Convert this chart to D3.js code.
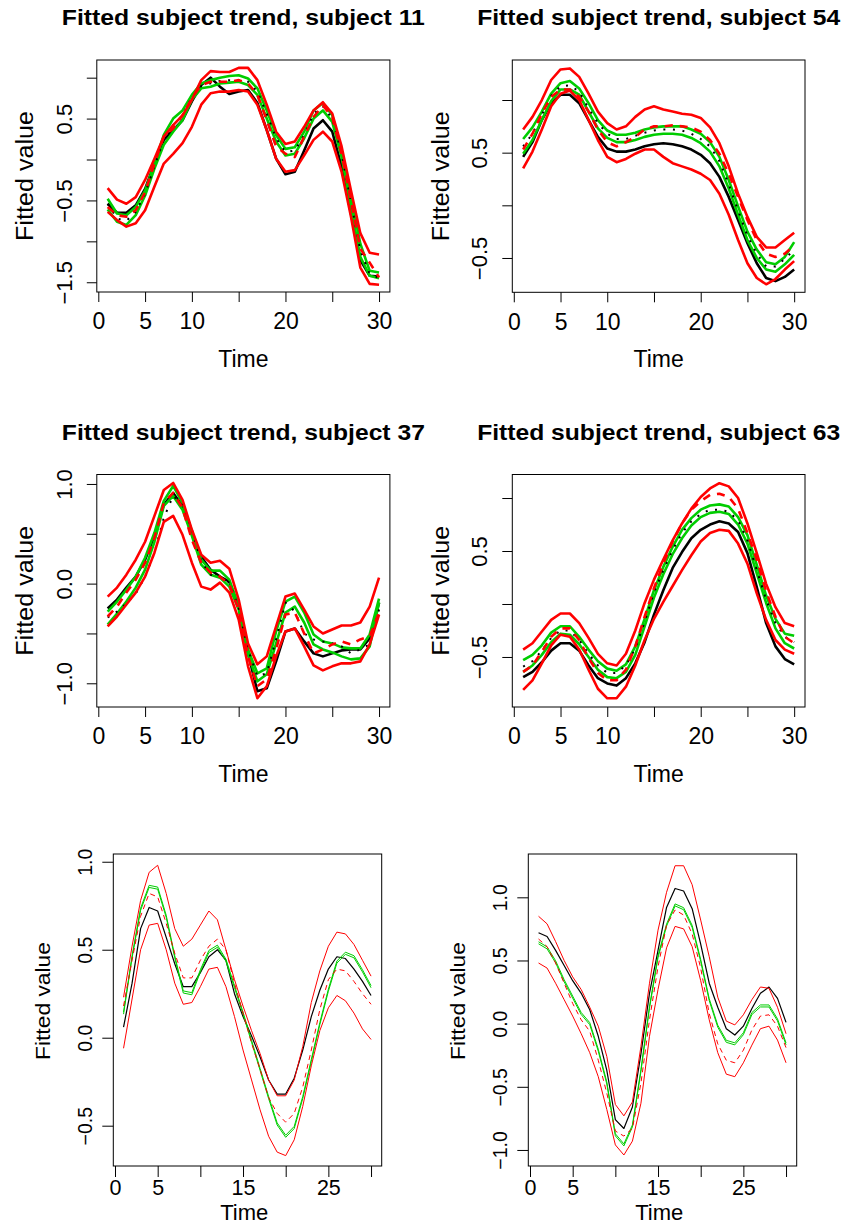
<!DOCTYPE html>
<html><head><meta charset="utf-8">
<script src="https://cdn.jsdelivr.net/npm/d3@7"></script>
<style>
html,body{margin:0;padding:0;background:#fff;}
svg{display:block;font-family:"Liberation Sans",Arial,Helvetica,sans-serif;}
</style></head><body>
<svg id="chart" width="846" height="1226"></svg>
<script>
// ---------- data ----------
const time = [1,2,3,4,5,6,7,8,9,10,11,12,13,14,15,16,17,18,19,20,21,22,23,24,25,26,27,28,29,30];
const xTicks = [0,5,10,15,20,25,30];
const xLabelsTop = ["0","5","10","","20","","30"];
const xLabelsBottom = ["0","5","","15","","25",""];

const titles = ["Fitted subject trend, subject 11","Fitted subject trend, subject 54",
                "Fitted subject trend, subject 37","Fitted subject trend, subject 63"];

// panel 1 : subject 11
const p1YTicks = [-1.5,-1,-0.5,0,0.5,1];
const p1YLabels = ["\u22121.5","","\u22120.5","","0.5",""];
const p1Black = [-0.54,-0.65,-0.65,-0.56,-0.36,-0.05,0.24,0.36,0.48,0.71,0.91,1.00,0.89,0.80,0.83,0.85,0.69,0.36,0.01,-0.18,-0.15,0.11,0.38,0.48,0.34,-0.09,-0.66,-1.23,-1.42,-1.43];
const p1Mean = [-0.54,-0.72,-0.75,-0.64,-0.42,-0.08,0.24,0.42,0.54,0.76,0.90,0.93,0.96,0.97,0.97,0.95,0.83,0.56,0.26,0.09,0.11,0.30,0.56,0.65,0.50,0.07,-0.52,-1.11,-1.40,-1.45];
const p1RedDash = [-0.58,-0.68,-0.70,-0.62,-0.40,-0.05,0.28,0.38,0.54,0.75,0.91,0.95,0.95,0.95,0.97,0.93,0.79,0.48,0.16,0.07,0.03,0.28,0.52,0.66,0.52,0.07,-0.50,-1.09,-1.26,-1.44];
const p1RedHi = [-0.35,-0.49,-0.54,-0.46,-0.25,0.01,0.28,0.42,0.54,0.73,0.97,1.08,1.07,1.07,1.12,1.12,0.97,0.67,0.34,0.19,0.22,0.40,0.60,0.70,0.56,0.16,-0.38,-0.90,-1.14,-1.16];
const p1RedLo = [-0.64,-0.74,-0.82,-0.78,-0.62,-0.33,-0.05,0.07,0.20,0.40,0.67,0.81,0.83,0.83,0.85,0.83,0.67,0.36,0.01,-0.15,-0.13,0.05,0.24,0.34,0.22,-0.15,-0.70,-1.32,-1.52,-1.53];
const p1GreenHi = [-0.48,-0.66,-0.68,-0.58,-0.38,-0.05,0.30,0.50,0.60,0.79,0.93,0.97,1.00,1.02,1.03,0.99,0.87,0.60,0.30,0.13,0.15,0.34,0.60,0.69,0.54,0.11,-0.46,-1.03,-1.36,-1.38];
const p1GreenLo = [-0.61,-0.76,-0.80,-0.68,-0.44,-0.11,0.18,0.34,0.48,0.73,0.87,0.89,0.93,0.94,0.95,0.91,0.79,0.50,0.22,0.05,0.07,0.26,0.50,0.60,0.46,0.03,-0.58,-1.19,-1.42,-1.45];

// panel 2 : subject 54
const p2YTicks = [-0.5,0,0.5,1];
const p2YLabels = ["\u22120.5","","0.5",""];
const p2Black = [0.46,0.60,0.81,0.97,1.05,1.05,0.97,0.81,0.65,0.54,0.51,0.51,0.53,0.56,0.58,0.59,0.58,0.56,0.53,0.48,0.40,0.27,0.08,-0.14,-0.36,-0.55,-0.69,-0.72,-0.68,-0.61];
const p2Mean = [0.56,0.68,0.86,1.04,1.13,1.14,1.08,0.92,0.78,0.68,0.63,0.63,0.66,0.69,0.71,0.72,0.72,0.71,0.68,0.63,0.56,0.42,0.20,-0.05,-0.29,-0.46,-0.58,-0.58,-0.51,-0.42];
const p2RedDash = [0.53,0.68,0.87,1.03,1.10,1.10,1.03,0.89,0.72,0.60,0.56,0.60,0.65,0.72,0.75,0.75,0.76,0.75,0.74,0.70,0.62,0.49,0.30,0.08,-0.14,-0.33,-0.46,-0.49,-0.46,-0.38];
const p2RedHi = [0.72,0.84,1.00,1.19,1.29,1.30,1.22,1.06,0.89,0.78,0.72,0.75,0.84,0.91,0.94,0.91,0.89,0.87,0.86,0.83,0.74,0.59,0.37,0.11,-0.11,-0.30,-0.40,-0.40,-0.33,-0.26];
const p2RedLo = [0.35,0.51,0.72,0.94,1.06,1.09,1.00,0.81,0.62,0.46,0.41,0.44,0.49,0.53,0.53,0.46,0.40,0.37,0.34,0.30,0.24,0.11,-0.09,-0.33,-0.55,-0.69,-0.75,-0.70,-0.61,-0.53];
const p2GreenHi = [0.63,0.74,0.89,1.06,1.16,1.18,1.11,0.97,0.81,0.71,0.67,0.67,0.69,0.72,0.74,0.75,0.75,0.75,0.72,0.68,0.60,0.46,0.24,-0.01,-0.25,-0.42,-0.54,-0.56,-0.49,-0.35];
const p2GreenLo = [0.49,0.62,0.81,0.99,1.10,1.10,1.05,0.89,0.73,0.64,0.60,0.60,0.62,0.65,0.67,0.68,0.68,0.67,0.64,0.59,0.51,0.37,0.16,-0.09,-0.33,-0.50,-0.61,-0.63,-0.56,-0.47];

// panel 3 : subject 37
const p3YTicks = [-1,-0.5,0,0.5,1];
const p3YLabels = ["\u22121.0","","0.0","","1.0"];
const p3Black = [-0.25,-0.16,-0.04,0.07,0.24,0.48,0.79,0.91,0.78,0.51,0.27,0.14,0.07,0.02,-0.23,-0.70,-1.08,-1.05,-0.78,-0.48,-0.45,-0.58,-0.70,-0.73,-0.70,-0.67,-0.66,-0.66,-0.55,-0.19];
const p3Mean = [-0.34,-0.28,-0.20,-0.10,0.07,0.31,0.66,0.88,0.79,0.54,0.22,0.09,0.07,0.01,-0.24,-0.66,-0.93,-0.90,-0.56,-0.19,-0.28,-0.50,-0.56,-0.58,-0.60,-0.63,-0.70,-0.66,-0.61,-0.26];
const p3RedDash = [-0.33,-0.23,-0.09,0.04,0.21,0.46,0.81,0.91,0.76,0.44,0.21,0.11,0.07,-0.01,-0.26,-0.73,-1.03,-0.96,-0.66,-0.31,-0.29,-0.50,-0.70,-0.66,-0.61,-0.58,-0.61,-0.56,-0.53,-0.29];
const p3RedHi = [-0.13,-0.04,0.09,0.24,0.42,0.68,0.94,1.01,0.84,0.54,0.29,0.21,0.23,0.15,-0.16,-0.60,-0.81,-0.73,-0.43,-0.13,-0.10,-0.26,-0.43,-0.50,-0.46,-0.42,-0.42,-0.39,-0.23,0.06];
const p3RedLo = [-0.43,-0.33,-0.21,-0.09,0.07,0.31,0.62,0.68,0.49,0.21,-0.03,-0.06,0.01,-0.09,-0.36,-0.83,-1.15,-1.03,-0.73,-0.48,-0.45,-0.63,-0.82,-0.87,-0.83,-0.80,-0.80,-0.78,-0.61,-0.31];
const p3GreenHi = [-0.28,-0.18,-0.06,0.07,0.26,0.51,0.83,0.98,0.81,0.53,0.24,0.13,0.13,0.04,-0.23,-0.66,-0.90,-0.85,-0.48,-0.18,-0.13,-0.29,-0.51,-0.58,-0.60,-0.64,-0.65,-0.65,-0.51,-0.15];
const p3GreenLo = [-0.41,-0.30,-0.18,-0.04,0.14,0.42,0.78,0.88,0.74,0.48,0.19,0.09,0.06,-0.03,-0.26,-0.71,-0.98,-0.91,-0.60,-0.29,-0.23,-0.39,-0.61,-0.66,-0.69,-0.73,-0.76,-0.75,-0.63,-0.19];

// panel 4 : subject 63
const p4YTicks = [-0.5,0,0.5,1];
const p4YLabels = ["\u22120.5","","0.5",""];
const p4Black = [-0.69,-0.64,-0.55,-0.44,-0.37,-0.37,-0.44,-0.58,-0.70,-0.75,-0.77,-0.70,-0.56,-0.36,-0.10,0.13,0.34,0.49,0.62,0.70,0.75,0.78,0.76,0.68,0.48,0.16,-0.18,-0.40,-0.52,-0.57];
const p4Mean = [-0.59,-0.54,-0.44,-0.32,-0.25,-0.25,-0.34,-0.47,-0.58,-0.65,-0.65,-0.58,-0.42,-0.17,0.11,0.32,0.51,0.67,0.78,0.85,0.89,0.89,0.87,0.79,0.60,0.32,0.04,-0.18,-0.31,-0.36];
const p4RedDash = [-0.64,-0.58,-0.45,-0.31,-0.23,-0.23,-0.34,-0.51,-0.65,-0.72,-0.72,-0.62,-0.40,-0.12,0.15,0.38,0.59,0.76,0.89,0.97,1.03,1.04,1.01,0.90,0.67,0.42,0.12,-0.12,-0.31,-0.37];
const p4RedHi = [-0.43,-0.37,-0.26,-0.15,-0.09,-0.09,-0.18,-0.32,-0.47,-0.56,-0.58,-0.47,-0.25,0.01,0.23,0.42,0.60,0.76,0.90,1.01,1.09,1.14,1.11,1.00,0.76,0.48,0.19,-0.03,-0.18,-0.21];
const p4RedLo = [-0.81,-0.72,-0.56,-0.39,-0.29,-0.31,-0.43,-0.62,-0.80,-0.89,-0.89,-0.78,-0.58,-0.34,-0.14,0.02,0.17,0.32,0.46,0.59,0.67,0.70,0.69,0.57,0.38,0.10,-0.15,-0.34,-0.43,-0.47];
const p4GreenHi = [-0.53,-0.48,-0.39,-0.27,-0.21,-0.21,-0.31,-0.43,-0.54,-0.61,-0.63,-0.57,-0.40,-0.14,0.13,0.35,0.54,0.70,0.81,0.89,0.93,0.94,0.92,0.82,0.65,0.37,0.08,-0.14,-0.28,-0.30];
const p4GreenLo = [-0.64,-0.58,-0.48,-0.36,-0.28,-0.29,-0.38,-0.50,-0.62,-0.69,-0.70,-0.64,-0.48,-0.21,0.06,0.28,0.47,0.62,0.74,0.82,0.86,0.87,0.85,0.75,0.57,0.29,0.01,-0.23,-0.37,-0.42];

// panel 5 (bottom left)
const p5YTicks = [-0.5,0,0.5,1];
const p5YLabels = ["\u22120.5","0.0","0.5","1.0"];
const p5Black = [0.06,0.31,0.62,0.74,0.72,0.57,0.42,0.29,0.29,0.37,0.46,0.50,0.44,0.25,0.12,0.01,-0.11,-0.24,-0.32,-0.32,-0.23,-0.07,0.12,0.27,0.39,0.46,0.45,0.39,0.32,0.24];
const p5RedDash = [0.18,0.44,0.69,0.82,0.80,0.65,0.48,0.34,0.34,0.44,0.52,0.56,0.50,0.31,0.14,-0.03,-0.18,-0.34,-0.43,-0.48,-0.43,-0.28,-0.07,0.16,0.33,0.39,0.38,0.32,0.25,0.19];
const p5RedHi = [0.23,0.52,0.78,0.94,0.98,0.82,0.62,0.52,0.56,0.64,0.72,0.67,0.50,0.33,0.18,0.04,-0.09,-0.24,-0.33,-0.33,-0.24,-0.05,0.20,0.38,0.52,0.60,0.59,0.53,0.44,0.35];
const p5RedLo = [-0.06,0.22,0.50,0.64,0.65,0.50,0.31,0.19,0.20,0.29,0.39,0.40,0.29,0.12,-0.07,-0.24,-0.41,-0.56,-0.65,-0.67,-0.58,-0.39,-0.16,0.04,0.17,0.24,0.21,0.14,0.05,-0.01];
const p5GreenHi = [0.146,0.466,0.736,0.866,0.856,0.696,0.466,0.266,0.256,0.386,0.496,0.526,0.446,0.296,0.146,-0.014,-0.174,-0.334,-0.484,-0.554,-0.504,-0.334,-0.124,0.086,0.276,0.436,0.486,0.466,0.386,0.296];
const p5GreenLo = [0.134,0.454,0.724,0.854,0.844,0.684,0.454,0.254,0.244,0.374,0.484,0.514,0.434,0.284,0.134,-0.026,-0.186,-0.346,-0.496,-0.566,-0.516,-0.346,-0.136,0.074,0.264,0.424,0.474,0.454,0.374,0.284];

// panel 6 (bottom right)
const p6YTicks = [-1,-0.5,0,0.5,1];
const p6YLabels = ["\u22121.0","\u22120.5","0.0","0.5","1.0"];
const p6Black = [0.72,0.69,0.58,0.46,0.34,0.24,0.11,-0.10,-0.37,-0.76,-0.83,-0.66,-0.24,0.24,0.58,0.92,1.07,1.05,0.91,0.63,0.32,0.13,-0.04,-0.09,-0.02,0.12,0.24,0.29,0.20,0.01];
const p6RedDash = [0.67,0.61,0.48,0.32,0.16,0.03,-0.06,-0.29,-0.55,-0.85,-0.89,-0.83,-0.47,0.03,0.45,0.78,0.90,0.86,0.71,0.44,0.08,-0.16,-0.29,-0.31,-0.21,-0.05,0.06,0.07,-0.02,-0.19];
const p6RedHi = [0.85,0.79,0.65,0.50,0.37,0.27,0.13,-0.02,-0.26,-0.64,-0.73,-0.62,-0.18,0.32,0.74,1.04,1.25,1.25,1.10,0.82,0.53,0.21,0.02,-0.01,0.07,0.19,0.29,0.28,0.13,-0.08];
const p6RedLo = [0.48,0.44,0.32,0.19,0.06,-0.08,-0.23,-0.42,-0.68,-0.96,-1.04,-0.93,-0.63,-0.10,0.27,0.60,0.77,0.75,0.61,0.34,0.03,-0.23,-0.40,-0.42,-0.31,-0.17,-0.04,-0.02,-0.13,-0.31];
const p6GreenHi = [0.648,0.608,0.498,0.348,0.218,0.088,0.008,-0.202,-0.462,-0.872,-0.952,-0.802,-0.362,0.138,0.538,0.788,0.948,0.918,0.778,0.508,0.198,-0.012,-0.132,-0.152,-0.072,0.088,0.148,0.148,0.038,-0.152];
const p6GreenLo = [0.632,0.592,0.482,0.332,0.202,0.072,-0.008,-0.218,-0.478,-0.888,-0.968,-0.818,-0.378,0.122,0.522,0.772,0.932,0.902,0.762,0.492,0.182,-0.028,-0.148,-0.168,-0.088,0.072,0.132,0.132,0.022,-0.168];

// ---------- styles ----------
const RED = "#FF0000", GREEN = "#00CD00", BLACK = "#000000";
function thickLayers(black, mean, green1, green2, dash, red1, red2) {
  return [
    {v: black, c: BLACK, w: 2.6},
    {v: green1, c: GREEN, w: 2.6},
    {v: green2, c: GREEN, w: 2.6},
    {v: mean, c: BLACK, w: 2, dash: "2,7.6"},
    {v: dash, c: RED, w: 2.6, dash: "8,7"},
    {v: red1, c: RED, w: 2.6},
    {v: red2, c: RED, w: 2.6}
  ];
}
function thinLayers(black, green1, green2, dash, red1, red2) {
  return [
    {v: black, c: BLACK, w: 1.2},
    {v: green1, c: GREEN, w: 1},
    {v: green2, c: GREEN, w: 1},
    {v: dash, c: RED, w: 1, dash: "5,4"},
    {v: red1, c: RED, w: 1},
    {v: red2, c: RED, w: 1}
  ];
}

const topCfg = {xDomain: [-0.16, 31.16], tickLen: 10, yTickFont: 22, xTickFont: 23, yLabOff: 25.1,
             xLabOff: 37.3, timeOff: 74.7, timeDx: 0, labFont: 23, timeFont: 23, ylabLen: 130, ylabOff: 63.8, ylabDy: 0};
const botCfg = {xDomain: [-0.2, 31.25], tickLen: 11, yTickFont: 19.5, xTickFont: 21.5, yLabOff: 21.6,
             xLabOff: 29, timeOff: 54, timeDx: -3.3, labFont: 21, timeFont: 22, ylabLen: 118, ylabOff: 63.3, ylabDy: -9};

const panels = [
  Object.assign({}, topCfg, {box: [96.8, 389.9, 60, 292], yDomain: [-1.619, 1.216], yTicks: p1YTicks, yLabels: p1YLabels,
    xLabels: xLabelsTop, title: titles[0], titleY: 25,
    layers: thickLayers(p1Black, p1Mean, p1GreenHi, p1GreenLo, p1RedDash, p1RedHi, p1RedLo)}),
  Object.assign({}, topCfg, {box: [512.3, 805, 60, 292.3], yDomain: [-0.826, 1.380], yTicks: p2YTicks, yLabels: p2YLabels,
    xLabels: xLabelsTop, title: titles[1], titleY: 25,
    layers: thickLayers(p2Black, p2Mean, p2GreenHi, p2GreenLo, p2RedDash, p2RedHi, p2RedLo)}),
  Object.assign({}, topCfg, {box: [96.8, 389.9, 474.5, 707], yDomain: [-1.238, 1.095], yTicks: p3YTicks, yLabels: p3YLabels,
    xLabels: xLabelsTop, title: titles[2], titleY: 439.5,
    layers: thickLayers(p3Black, p3Mean, p3GreenHi, p3GreenLo, p3RedDash, p3RedHi, p3RedLo)}),
  Object.assign({}, topCfg, {box: [512.3, 805, 474.5, 707], yDomain: [-0.972, 1.222], yTicks: p4YTicks, yLabels: p4YLabels,
    xLabels: xLabelsTop, title: titles[3], titleY: 439.5,
    layers: thickLayers(p4Black, p4Mean, p4GreenHi, p4GreenLo, p4RedDash, p4RedHi, p4RedLo)}),
  Object.assign({}, botCfg, {box: [113.3, 381.7, 854, 1166], yDomain: [-0.729, 1.044], yTicks: p5YTicks, yLabels: p5YLabels,
    xLabels: xLabelsBottom, title: null,
    layers: thinLayers(p5Black, p5GreenHi, p5GreenLo, p5RedDash, p5RedHi, p5RedLo)}),
  Object.assign({}, botCfg, {box: [528.3, 796.7, 854, 1166], yDomain: [-1.127, 1.343], yTicks: p6YTicks, yLabels: p6YLabels,
    xLabels: xLabelsBottom, title: null,
    layers: thinLayers(p6Black, p6GreenHi, p6GreenLo, p6RedDash, p6RedHi, p6RedLo)})
];

const svg = d3.select("#chart");
svg.append("rect").attr("width", 846).attr("height", 1226).attr("fill", "#fff");

panels.forEach(p => {
  const [x0, x1, y0, y1] = p.box;
  const x = d3.scaleLinear().domain(p.xDomain).range([x0, x1]);
  const y = d3.scaleLinear().domain(p.yDomain).range([y1, y0]);
  const g = svg.append("g");
  const line = d3.line().x((d, i) => x(time[i])).y(d => y(d));

  p.layers.forEach(L => {
    g.append("path").datum(L.v).attr("d", line)
      .attr("fill", "none").attr("stroke", L.c).attr("stroke-width", L.w)
      .attr("stroke-dasharray", L.dash || null)
      .attr("stroke-linejoin", "round");
  });

  g.append("rect").attr("x", x0).attr("y", y0).attr("width", x1 - x0).attr("height", y1 - y0)
    .attr("fill", "none").attr("stroke", "#000").attr("stroke-width", 1);

  const ya = g.append("g").attr("transform", `translate(${x0},0)`)
    .call(d3.axisLeft(y).tickValues(p.yTicks).tickFormat((d, i) => p.yLabels[i]).tickSize(p.tickLen).tickSizeOuter(0));
  ya.attr("font-family", null).attr("font-size", p.yTickFont);
  ya.select(".domain").remove();
  ya.selectAll(".tick line").attr("stroke", "#000");
  ya.selectAll(".tick text").attr("x", 0).attr("dy", null).attr("y", -p.yLabOff)
    .attr("transform", "rotate(-90)").attr("text-anchor", "middle").attr("fill", "#000");

  const xa = g.append("g").attr("transform", `translate(0,${y1})`)
    .call(d3.axisBottom(x).tickValues(xTicks).tickFormat((d, i) => p.xLabels[i]).tickSize(p.tickLen).tickSizeOuter(0));
  xa.attr("font-family", null).attr("font-size", p.xTickFont);
  xa.select(".domain").remove();
  xa.selectAll(".tick line").attr("stroke", "#000");
  xa.selectAll(".tick text").attr("dy", null).attr("y", p.xLabOff).attr("fill", "#000");

  const cx = (x0 + x1) / 2, cy = (y0 + y1) / 2;
  if (p.title) {
    g.append("text").attr("x", cx).attr("y", p.titleY).attr("text-anchor", "middle")
      .attr("font-weight", "bold").attr("font-size", 22)
      .attr("textLength", 363).attr("lengthAdjust", "spacingAndGlyphs").text(p.title);
  }
  g.append("text").attr("transform", `translate(${x0 - p.ylabOff},${cy + p.ylabDy}) rotate(-90)`)
    .attr("text-anchor", "middle").attr("font-size", p.labFont)
    .attr("textLength", p.ylabLen).attr("lengthAdjust", "spacingAndGlyphs").text("Fitted value");
  g.append("text").attr("x", cx + p.timeDx).attr("y", y1 + p.timeOff).attr("text-anchor", "middle")
    .attr("font-size", p.timeFont).text("Time");
});
</script>
</body></html>
